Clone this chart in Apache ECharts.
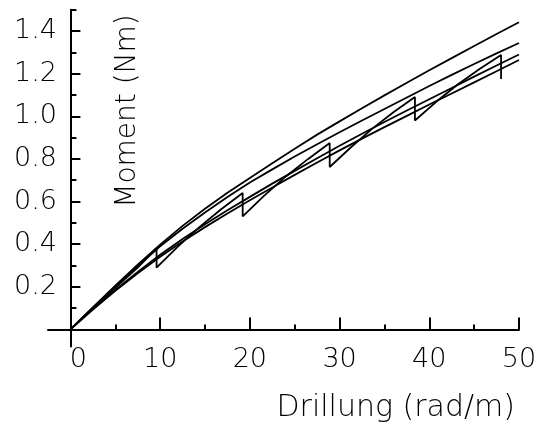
<!DOCTYPE html>
<html>
<head>
<meta charset="utf-8">
<style>
  html, body { margin: 0; padding: 0; background: #fff; }
  #chart { width: 539px; height: 428px; }
</style>
</head>
<body>
<div id="chart"></div>
<script src="https://cdn.jsdelivr.net/npm/echarts@6/dist/echarts.min.js"></script>
<script>
// Drillung (rad/m), stuetzstellen der glatten kurven
var xs = [0, 2.5, 5, 7.5, 10, 12.5, 15, 17.5, 20, 22.5, 25, 27.5, 30, 32.5, 35, 37.5, 40, 42.5, 45, 47.5, 50];
var curve1 = [0, .104, .206, .304, .398, .486, .566, .641, .711, .780, .848, .914, .976, 1.038, 1.098, 1.157, 1.216, 1.273, 1.330, 1.386, 1.441];
var curve2 = [0, .102, .201, .297, .390, .472, .549, .621, .689, .751, .811, .869, .925, .980, 1.034, 1.088, 1.142, 1.194, 1.245, 1.295, 1.344];
var curve3 = [0, .095, .185, .270, .350, .424, .493, .559, .622, .684, .744, .803, .862, .918, .973, 1.027, 1.080, 1.133, 1.186, 1.238, 1.290];
var curve4 = [0, .093, .181, .264, .341, .413, .480, .544, .606, .666, .725, .783, .840, .895, .949, 1.002, 1.055, 1.107, 1.159, 1.211, 1.264];

// messkurve mit relaxation (saegezahn)
var sawX = [0, 2.5, 5, 7.5, 9.6, 9.6, 12.0, 14.4, 16.8, 19.2, 19.2, 21.6, 24.05, 26.5, 28.9, 28.9,
            31.3, 33.65, 36.0, 38.4, 38.4, 40.8, 43.2, 45.6, 48.0, 48.0];
var sawY = [0, 0.10, 0.195, 0.29, 0.38, 0.29, 0.39, 0.481, 0.564, 0.64, 0.53, 0.628, 0.719, 0.80, 0.875, 0.762,
            0.856, 0.942, 1.019, 1.09, 0.98, 1.069, 1.15, 1.222, 1.288, 1.175];

// achsen
var xLabels = [0, 10, 20, 30, 40, 50];
var xMajor = [10, 20, 30, 40, 50];
var xMinor = [5, 15, 25, 35, 45];
var yLabels = [0.2, 0.4, 0.6, 0.8, 1.0, 1.2, 1.4];
var yMinor = [0.1, 0.3, 0.5, 0.7, 0.9, 1.1, 1.3, 1.5];

function pairs(x, y) {
  var out = [];
  for (var i = 0; i < x.length; i++) out.push([x[i], y[i]]);
  return out;
}

var font = 'DejaVu Sans';
var chart = echarts.init(document.getElementById('chart'));

var lineStyle = { color: '#000', width: 1.8 };
function curve(data) {
  return {
    type: 'line',
    data: data,
    showSymbol: false,
    lineStyle: lineStyle,
    silent: true
  };
}

var option = {
  animation: false,
  backgroundColor: '#fff',
  grid: { left: 48, right: 20, top: 9.7, bottom: 81.5, outerBoundsMode: 'none', containLabel: false },
  xAxis: [{
    type: 'value', min: -2.5, max: 50, position: 'bottom',
    axisLine: { onZero: true, onZeroAxisIndex: 0, lineStyle: { color: '#000', width: 2 } },
    axisTick: { inside: true, length: 12, customValues: xMajor, lineStyle: { color: '#000', width: 2 } },
    axisLabel: {
      customValues: xLabels, margin: 0, color: '#000',
      fontFamily: font, fontSize: 27, fontWeight: 200,
      formatter: function (v) { return v === 0 ? '{z|0}' : String(v); },
      rich: { z: { fontFamily: font, fontSize: 27, fontWeight: 200, color: '#000', padding: [0, 0, 0, 16] } }
    },
    splitLine: { show: false }
  }, {
    type: 'value', min: -2.5, max: 50, position: 'bottom',
    axisLine: { show: false, onZero: true, onZeroAxisIndex: 0 },
    axisTick: { inside: true, length: 5, customValues: xMinor, lineStyle: { color: '#000', width: 2 } },
    axisLabel: { show: false },
    splitLine: { show: false }
  }],
  yAxis: [{
    type: 'value', min: -0.08, max: 1.5, position: 'left',
    axisLine: { show: true, onZero: true, onZeroAxisIndex: 0, lineStyle: { color: '#000', width: 2 } },
    axisTick: { show: true, inside: true, length: 10, customValues: yLabels, lineStyle: { color: '#000', width: 2 } },
    axisLabel: {
      customValues: yLabels, margin: -9, color: '#000',
      fontFamily: font, fontSize: 27, fontWeight: 200,
      formatter: function (v) { return v.toFixed(1); }
    },
    splitLine: { show: false }
  }, {
    type: 'value', min: -0.08, max: 1.5, position: 'left',
    axisLine: { show: false, onZero: true, onZeroAxisIndex: 0 },
    axisTick: { show: true, inside: true, length: 6, customValues: yMinor, lineStyle: { color: '#000', width: 2 } },
    axisLabel: { show: false },
    splitLine: { show: false }
  }],
  graphic: [{
    type: 'text', x: 128, y: 111, rotation: Math.PI / 2,
    style: { text: 'Moment (Nm)', fontFamily: font, fontSize: 28, fontWeight: 200, fill: '#000',
             align: 'center', verticalAlign: 'middle' }
  }, {
    type: 'text', x: 515, y: 408,
    style: { text: 'Drillung (rad/m)', fontFamily: font, fontSize: 30, fontWeight: 200, fill: '#000',
             align: 'right', verticalAlign: 'middle' }
  }],
  series: [
    curve(pairs(xs, curve1)),
    curve(pairs(xs, curve2)),
    curve(pairs(xs, curve3)),
    curve(pairs(xs, curve4)),
    curve(pairs(sawX, sawY))
  ]
};

chart.setOption(option);
</script>
</body>
</html>
